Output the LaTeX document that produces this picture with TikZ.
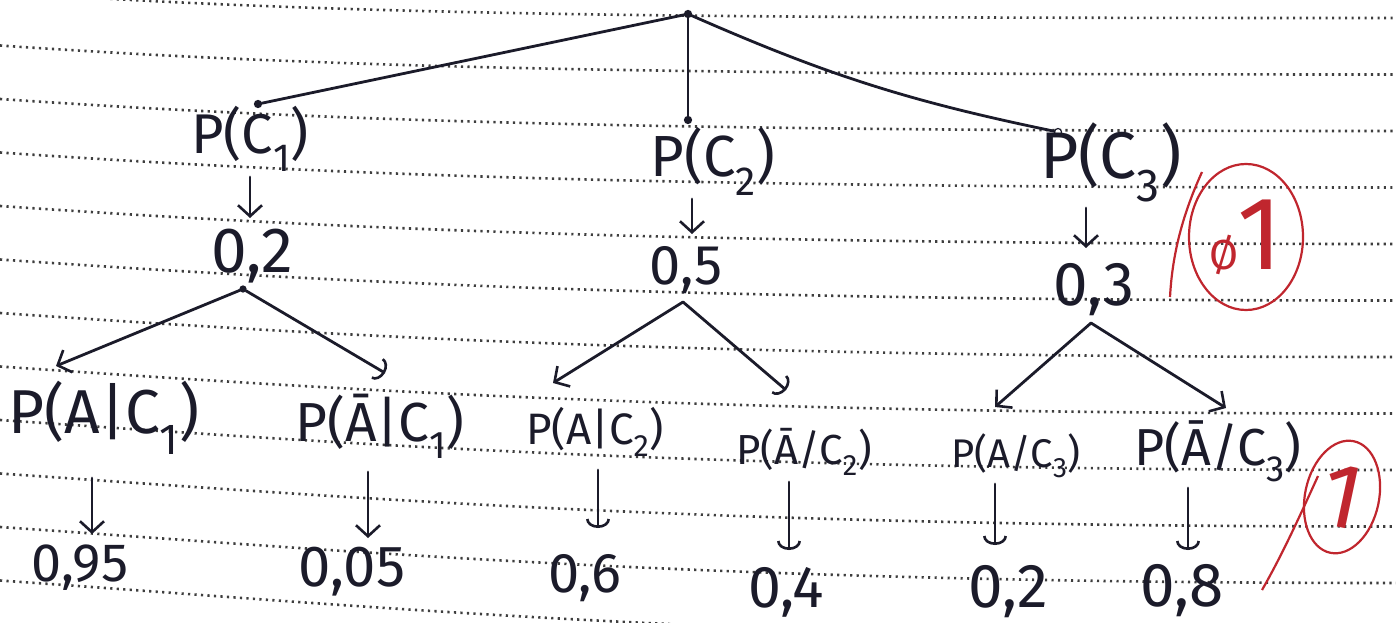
\documentclass[tikz,border=0pt]{standalone}
\usepackage{fontspec}
\setmainfont{Fira Sans}
\usetikzlibrary{arrows.meta,shapes.geometric}
\definecolor{ink}{HTML}{1B1B2A}
\definecolor{redink}{HTML}{C0262E}
\definecolor{dotc}{HTML}{3E3E3E}
\newcommand{\fs}[1]{\fontsize{#1}{#1}\selectfont}
\begin{document}
\begin{tikzpicture}[x=1pt,y=-1pt,
  lbl/.style={text=ink, inner sep=0pt},
  br/.style={draw=ink, line width=2.8pt, line cap=round},
  vtip/.style={-{Straight Barb[length=11pt,width=24pt,line width=2.6pt]}},
  utip/.style={-{Arc Barb[length=9pt,width=24pt,line width=2.6pt]}},
  ruled/.style={draw=dotc, line width=2.6pt, dash pattern=on 2.2pt off 4.3pt},
  redpen/.style={draw=redink, line width=2.2pt},
  knot/.style={circle, draw=ink, fill=ink, line width=1.2pt, minimum size=7pt, inner sep=0pt}
]
\path[use as bounding box] (0,0) rectangle (1396,623);
\begin{scope}
\clip (0,0) rectangle (1396,623);
\foreach \i in {0,...,11} {
  \pgfmathsetmacro\L{-8+53.5*\i}
  \pgfmathsetmacro\R{18+56.5*\i}
  \draw[ruled] (0,\L) .. controls (350,\L+24) and (700,\R) .. (1396,\R);
}
\end{scope}

% level 1 knots
\node[knot] (root) at (688,14) {};
\node[knot] (k1) at (258,104) {};
\node[knot] (k2) at (688,120) {};
\node[knot, fill=white] (k3) at (1058,132) {};
\draw[br] (root) -- (k1);
\draw[br] (root) -- (k2);
\draw[br] (root) to[bend right=6] (k3);

% labels level 1
\node[lbl, font=\fs{56}] (pc1) at (250,139) {P(C\textsubscript{1})};
\node[lbl, font=\fs{58}] (pc2) at (713,161) {P(C\textsubscript{2})};
\node[lbl, font=\fs{66}] (pc3) at (1111,162) {P(C\textsubscript{3})};

\node[lbl, font=\fs{64}] (v1) at (252,256) {0,2};
\node[lbl, font=\fs{56}] (v2) at (686,270) {0,5};
\node[lbl, font=\fs{62}] (v3) at (1094,290) {0,3};

\coordinate (s1) at (250,177); \coordinate (e1) at (250,218);
\coordinate (s2) at (692,199); \coordinate (e2) at (692,234);
\coordinate (s3) at (1086,208); \coordinate (e3) at (1086,248);
\draw[br,vtip] (s1) -- (e1);
\draw[br,vtip] (s2) -- (e2);
\draw[br,vtip] (s3) -- (e3);

% apexes of second level
\node[knot, minimum size=6pt] (ap1) at (243,289) {};
\coordinate (ap2) at (683,302);
\coordinate (ap3) at (1091,323);

\coordinate (l1) at (56,366);
\coordinate (r1) at (385,373);
\coordinate (l2) at (553,383);
\coordinate (r2) at (786,390);
\coordinate (l3) at (995,407);
\coordinate (r3) at (1226,408);
\draw[br,vtip] (ap1) -- (l1);
\draw[br,utip] (ap1) -- (r1);
\draw[br,vtip] (ap2) -- (l2);
\draw[br,utip] (ap2) -- (r2);
\draw[br,vtip] (ap3) -- (l3);
\draw[br,vtip] (ap3) -- (r3);

% labels level 2
\node[lbl, font=\fs{62}] (pa1) at (104,418) {P(A|C\textsubscript{1})};
\node[lbl, font=\fs{55}] (pn1) at (380,426) {P(Ā|C\textsubscript{1})};
\node[lbl, font=\fs{44}] (pa2) at (595,432) {P(A|C\textsubscript{2})};
\node[lbl, font=\fs{42}] (pn2) at (804,452) {P(Ā/C\textsubscript{2})};
\node[lbl, font=\fs{40}] (pa3) at (1016,456) {P(A/C\textsubscript{3})};
\node[lbl, font=\fs{52}] (pn3) at (1218,451) {P(Ā/C\textsubscript{3})};

\node[lbl, font=\fs{54}] (w1) at (80,568) {0,95};
\node[lbl, font=\fs{58}] (w2) at (352,572) {0,05};
\node[lbl, font=\fs{56}] (w3) at (585,578) {0,6};
\node[lbl, font=\fs{59}] (w4) at (786,592) {0,4};
\node[lbl, font=\fs{62}] (w5) at (1008,592) {0,2};
\node[lbl, font=\fs{62}] (w6) at (1182,591) {0,8};

\draw[br,vtip] (92,478) -- (92,534);
\draw[br,vtip] (368,472) -- (368,538);
\draw[br,utip] (598,470) -- (598,528);
\draw[br,utip] (789,482) -- (789,550);
\draw[br,utip] (995,484) -- (995,545);
\draw[br,utip] (1188,488) -- (1188,550);

% red marks
\node[ellipse, redpen, minimum width=114pt, minimum height=146pt, inner sep=0pt, text=redink] (g1) at (1246,237)
  {{\fs{42}Ø}\kern-2pt{\fs{104}1}};
\draw[redpen] (1202,172) .. controls (1180,220) and (1172,260) .. (1170,297);
\node[ellipse, redpen, rotate=-12, minimum width=74pt, minimum height=114pt, inner sep=0pt, text=redink,
  font=\fs{92}] (g2) at (1342,497) {1};
\draw[redpen] (1318,476) .. controls (1298,520) and (1282,555) .. (1262,590);
\end{tikzpicture}
\end{document}
